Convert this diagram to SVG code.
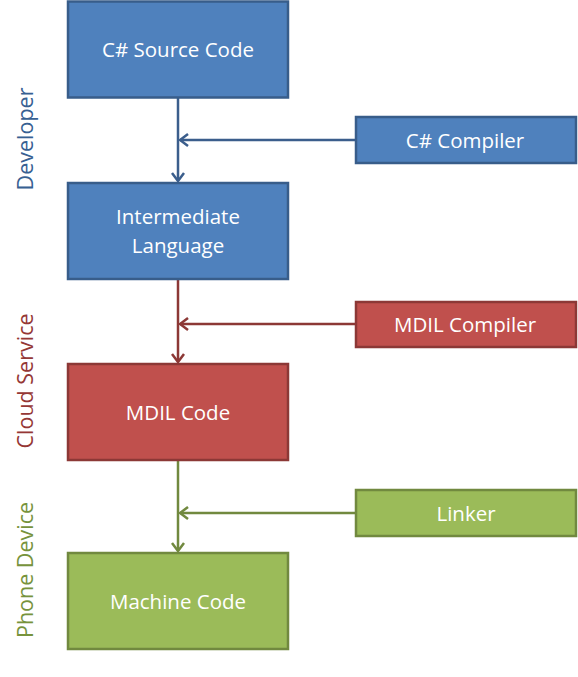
<svg xmlns="http://www.w3.org/2000/svg" width="578" height="677" viewBox="0 0 578 677">
<defs>
<style>
.t{font-family:"Open Sans","Liberation Sans",sans-serif;font-size:20.5px;fill:#ffffff;text-anchor:middle;dominant-baseline:central}
.lbl{font-family:"Open Sans","Liberation Sans",sans-serif;font-size:21.5px;text-anchor:middle;dominant-baseline:central}
.b{fill:#4F81BD;stroke:#385D8A;stroke-width:2.5}
.r{fill:#C0504D;stroke:#8C3836;stroke-width:2.5}
.g{fill:#9BBB59;stroke:#71893F;stroke-width:2.5}
.cb{stroke:#3B5E8C;stroke-width:2.5;fill:none}
.cr{stroke:#8C3836;stroke-width:2.5;fill:none}
.cg{stroke:#71893F;stroke-width:2.5;fill:none}
</style>
<marker id="mb" viewBox="0 0 10 14" refX="9" refY="7" markerWidth="10" markerHeight="14" markerUnits="userSpaceOnUse" orient="auto"><path d="M1,1 L9,7 L1,13" fill="none" stroke="#3B5E8C" stroke-width="2.5"/></marker>
<marker id="mr" viewBox="0 0 10 14" refX="9" refY="7" markerWidth="10" markerHeight="14" markerUnits="userSpaceOnUse" orient="auto"><path d="M1,1 L9,7 L1,13" fill="none" stroke="#8C3836" stroke-width="2.5"/></marker>
<marker id="mg" viewBox="0 0 10 14" refX="9" refY="7" markerWidth="10" markerHeight="14" markerUnits="userSpaceOnUse" orient="auto"><path d="M1,1 L9,7 L1,13" fill="none" stroke="#71893F" stroke-width="2.5"/></marker>
</defs>
<rect width="578" height="677" fill="#ffffff"/>
<g id="connectors">
<line class="cb" x1="178" y1="98" x2="178" y2="181" marker-end="url(#mb)"/>
<line class="cb" x1="356" y1="140" x2="180" y2="140" marker-end="url(#mb)"/>
<line class="cr" x1="178" y1="280" x2="178" y2="362" marker-end="url(#mr)"/>
<line class="cr" x1="356" y1="324" x2="180" y2="324" marker-end="url(#mr)"/>
<line class="cg" x1="178" y1="461" x2="178" y2="551" marker-end="url(#mg)"/>
<line class="cg" x1="356" y1="513" x2="180" y2="513" marker-end="url(#mg)"/>
</g>
<g id="csharp-source">
<rect class="b" x="68" y="1.5" width="220" height="96"/>
<text class="t" x="178" y="49">C# Source Code</text>
</g>
<g id="csharp-compiler">
<rect class="b" x="356" y="117" width="220" height="46"/>
<text class="t" x="465" y="140">C# Compiler</text>
</g>
<g id="intermediate-language">
<rect class="b" x="68" y="183" width="220" height="96"/>
<text class="t" x="178" y="216">Intermediate</text>
<text class="t" x="178" y="245">Language</text>
</g>
<g id="mdil-compiler">
<rect class="r" x="356" y="302" width="220" height="45"/>
<text class="t" x="465" y="324">MDIL Compiler</text>
</g>
<g id="mdil-code">
<rect class="r" x="68" y="364" width="220" height="96"/>
<text class="t" x="178" y="412">MDIL Code</text>
</g>
<g id="linker">
<rect class="g" x="356" y="490" width="220" height="46"/>
<text class="t" x="466" y="513">Linker</text>
</g>
<g id="machine-code">
<rect class="g" x="68" y="553" width="220" height="96"/>
<text class="t" x="178" y="601">Machine Code</text>
</g>
<g id="side-labels">
<text class="lbl" fill="#376092" transform="translate(24,139) rotate(-90)">Developer</text>
<text class="lbl" fill="#953735" transform="translate(24,381) rotate(-90)">Cloud Service</text>
<text class="lbl" fill="#77933C" transform="translate(24,570) rotate(-90)">Phone Device</text>
</g>
</svg>
